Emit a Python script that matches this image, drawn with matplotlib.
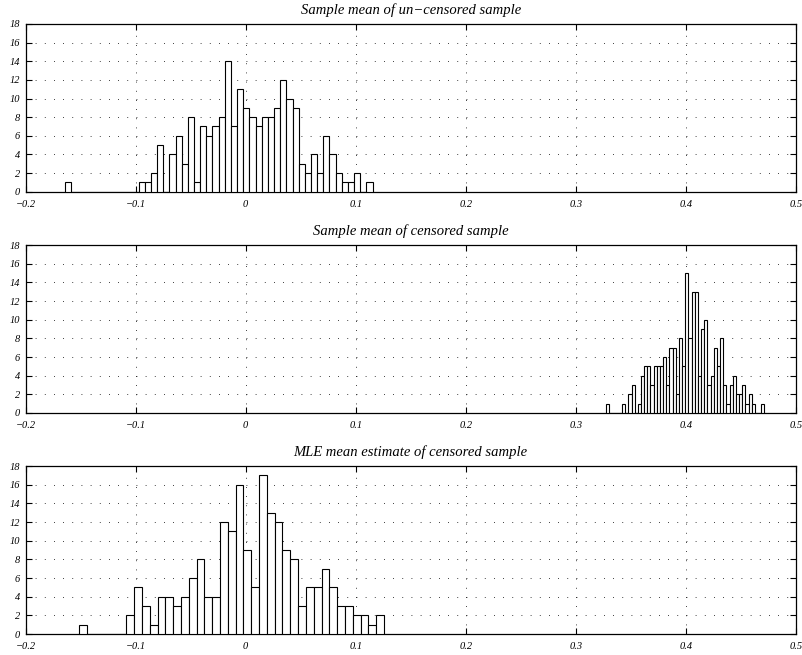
import numpy as np
import matplotlib.pyplot as plt

# histogram counts (first bin centre, bin width, counts)
uncens_start = -0.1617
uncens_width = 0.005596
uncens_counts = [1, 0, 0, 0, 0, 0, 0, 0, 0, 0, 0, 0,
                 1, 1, 2, 5, 0, 4, 6, 3, 8, 1, 7, 6, 7, 8, 14, 7, 11, 9, 8, 7,
                 8, 8, 9, 12, 10, 9, 3, 2, 4, 2, 6, 4, 2, 1, 1, 2, 0, 1]

cens_start = 0.3292
cens_width = 0.002874
cens_counts = [1, 0, 0, 0, 0, 1, 0, 2, 3, 0, 1, 4, 5, 5, 3, 5, 5, 5, 6, 3,
               7, 7, 2, 8, 5, 15, 8, 13, 13, 4, 9, 10, 3, 4, 7, 5, 8, 3, 1, 3,
               4, 2, 2, 3, 1, 2, 1, 0, 0, 1]

mle_start = -0.1476
mle_width = 0.0071
mle_counts = [1, 0, 0, 0, 0, 0,
              2, 5, 3, 1, 4, 4, 3, 4, 6, 8, 4, 4, 12, 11, 16, 9, 5, 17, 13, 12,
              9, 8, 3, 5, 5, 7, 5, 3, 3, 2, 2, 1, 2]

titles = ["Sample mean of un\u2212censored sample",
          "Sample mean of censored sample",
          "MLE mean estimate of censored sample"]
x_ticks = [-0.2, -0.1, 0, 0.1, 0.2, 0.3, 0.4, 0.5]
x_ticklabels = ["\u22120.2", "\u22120.1", "0", "0.1", "0.2", "0.3", "0.4", "0.5"]
y_ticks = list(range(0, 19, 2))

panels = [(uncens_start, uncens_width, uncens_counts),
          (cens_start, cens_width, cens_counts),
          (mle_start, mle_width, mle_counts)]

W, H = 803, 655
# axes boxes in pixels: (top, bottom)
boxes = [(24, 191.7), (245, 413), (466, 634)]
left_px, right_px = 25.7, 795.7

plt.rcParams["font.family"] = ["Liberation Serif", "DejaVu Serif"]
plt.rcParams["font.style"] = "italic"

fig = plt.figure(figsize=(W / 100, H / 100), dpi=100)

for (start, width, counts), title, (top, bot) in zip(panels, titles, boxes):
    ax = fig.add_axes([left_px / W, 1 - bot / H,
                       (right_px - left_px) / W, (bot - top) / H])
    counts = np.array(counts)
    centers = start + width * np.arange(len(counts))
    ax.bar(centers, counts, width=width, facecolor="white",
           edgecolor="black", linewidth=0.8, zorder=3)
    ax.set_xlim(-0.2, 0.5)
    ax.set_ylim(0, 18)
    ax.set_xticks(x_ticks)
    ax.set_xticklabels(x_ticklabels)
    ax.set_yticks(y_ticks)
    ax.tick_params(direction="in", top=True, right=True, length=4,
                   width=0.8, labelsize=7.5)
    ax.tick_params(axis="x", pad=6)
    ax.tick_params(axis="y", pad=4)
    ax.grid(True, color="black", linestyle=(0, (1, 10)), linewidth=0.6)
    for s in ax.spines.values():
        s.set_linewidth(0.9)
    ax.set_title(title, fontsize=10.5, style="italic", pad=7)

fig.savefig("out.png", dpi=100)
